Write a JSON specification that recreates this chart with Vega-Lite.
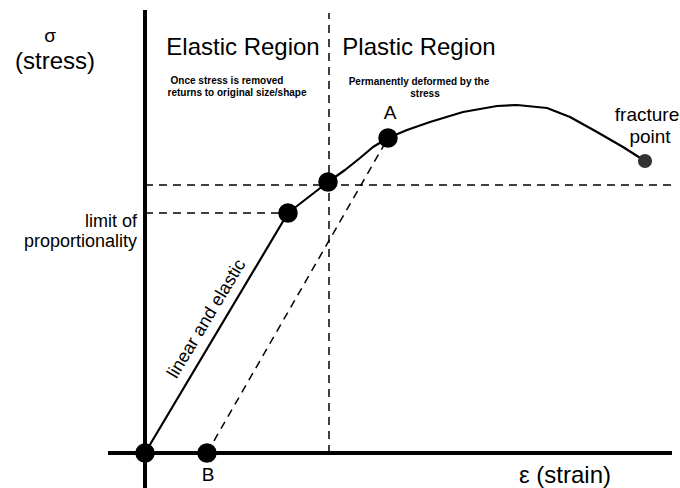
{
  "$schema": "https://vega.github.io/schema/vega-lite/v6.json",
  "width": 680,
  "height": 488,
  "padding": 0,
  "autosize": "none",
  "background": "white",
  "config": {"view": {"stroke": null}, "font": "Liberation Sans"},
  "datasets": {
    "curve": [
      {"strain": 0, "stress": 0},
      {"strain": 143, "stress": 240},
      {"strain": 183, "stress": 271},
      {"strain": 200, "stress": 283},
      {"strain": 215, "stress": 295},
      {"strain": 228, "stress": 306},
      {"strain": 243, "stress": 315},
      {"strain": 262, "stress": 323},
      {"strain": 285, "stress": 331},
      {"strain": 318, "stress": 341},
      {"strain": 352, "stress": 347},
      {"strain": 372, "stress": 348},
      {"strain": 402, "stress": 345},
      {"strain": 425, "stress": 336},
      {"strain": 452, "stress": 321},
      {"strain": 478, "stress": 306},
      {"strain": 500, "stress": 292}
    ],
    "dashed": [
      {"seg": "yield vertical", "strain": 184, "stress": 0},
      {"seg": "yield vertical", "strain": 184, "stress": 440},
      {"seg": "yield horizontal", "strain": 0, "stress": 268},
      {"seg": "yield horizontal", "strain": 527, "stress": 268},
      {"seg": "limit horizontal", "strain": 0, "stress": 240},
      {"seg": "limit horizontal", "strain": 143, "stress": 240},
      {"seg": "unload", "strain": 62, "stress": 0},
      {"seg": "unload", "strain": 243, "stress": 315}
    ],
    "axes": [
      {"seg": "stress axis", "strain": 0, "stress": -35},
      {"seg": "stress axis", "strain": 0, "stress": 443},
      {"seg": "strain axis", "strain": -37, "stress": 0},
      {"seg": "strain axis", "strain": 527, "stress": 0}
    ],
    "points": [
      {"name": "origin", "strain": 0, "stress": 0},
      {"name": "B", "strain": 62, "stress": 0},
      {"name": "limit of proportionality", "strain": 143, "stress": 240},
      {"name": "yield", "strain": 183, "stress": 271},
      {"name": "A", "strain": 243, "stress": 315}
    ],
    "fracture": [{"name": "fracture point", "strain": 500, "stress": 292}],
    "bigText": [
      {"label": "(stress)", "strain": -90, "stress": 391},
      {"label": "Elastic Region", "strain": 98, "stress": 405},
      {"label": "Plastic Region", "strain": 274, "stress": 405},
      {"label": "ε (strain)", "strain": 420, "stress": -23}
    ],
    "midText": [
      {"label": "σ", "strain": -95, "stress": 417},
      {"label": "A", "strain": 245, "stress": 340},
      {"label": "B", "strain": 63, "stress": -22},
      {"label": "fracture", "strain": 502, "stress": 338},
      {"label": "point", "strain": 505, "stress": 316}
    ],
    "rightText": [
      {"label": "limit of", "strain": -8, "stress": 231},
      {"label": "proportionality", "strain": -8, "stress": 211}
    ],
    "smallText": [
      {"label": "Once stress is removed", "strain": 82, "stress": 372},
      {"label": "returns to original size/shape", "strain": 92, "stress": 360},
      {"label": "Permanently deformed by the", "strain": 274, "stress": 371},
      {"label": "stress", "strain": 280, "stress": 359}
    ],
    "rotText": [{"label": "linear and elastic", "strain": 62, "stress": 134}]
  },
  "encoding": {
    "x": {"field": "strain", "type": "quantitative", "scale": {"domain": [-145, 535], "nice": false, "zero": false}, "axis": null},
    "y": {"field": "stress", "type": "quantitative", "scale": {"domain": [-35, 453], "nice": false, "zero": false}, "axis": null}
  },
  "layer": [
    {"data": {"name": "dashed"}, "mark": {"type": "line", "color": "black", "strokeWidth": 1.5, "strokeDash": [8, 6]}, "encoding": {"detail": {"field": "seg"}}},
    {"data": {"name": "axes"}, "mark": {"type": "line", "color": "black", "strokeWidth": 4}, "encoding": {"detail": {"field": "seg"}}},
    {"data": {"name": "curve"}, "mark": {"type": "line", "color": "black", "strokeWidth": 2.2, "interpolate": "linear", "strokeJoin": "round"}, "encoding": {}},
    {"data": {"name": "points"}, "mark": {"type": "point", "filled": true, "color": "black", "opacity": 1, "size": 380}, "encoding": {}},
    {"data": {"name": "fracture"}, "mark": {"type": "point", "filled": true, "color": "#333333", "opacity": 1, "size": 200}, "encoding": {}},
    {"data": {"name": "bigText"}, "mark": {"type": "text", "fontSize": 24, "color": "black", "align": "center", "baseline": "middle"}, "encoding": {"text": {"field": "label"}}},
    {"data": {"name": "midText"}, "mark": {"type": "text", "fontSize": 19, "color": "black", "align": "center", "baseline": "middle"}, "encoding": {"text": {"field": "label"}}},
    {"data": {"name": "rightText"}, "mark": {"type": "text", "fontSize": 18, "color": "black", "align": "right", "baseline": "middle"}, "encoding": {"text": {"field": "label"}}},
    {"data": {"name": "smallText"}, "mark": {"type": "text", "fontSize": 10, "fontWeight": "bold", "color": "black", "align": "center", "baseline": "middle"}, "encoding": {"text": {"field": "label"}}},
    {"data": {"name": "rotText"}, "mark": {"type": "text", "fontSize": 18, "color": "black", "align": "center", "baseline": "middle", "angle": 301}, "encoding": {"text": {"field": "label"}}}
  ]
}
